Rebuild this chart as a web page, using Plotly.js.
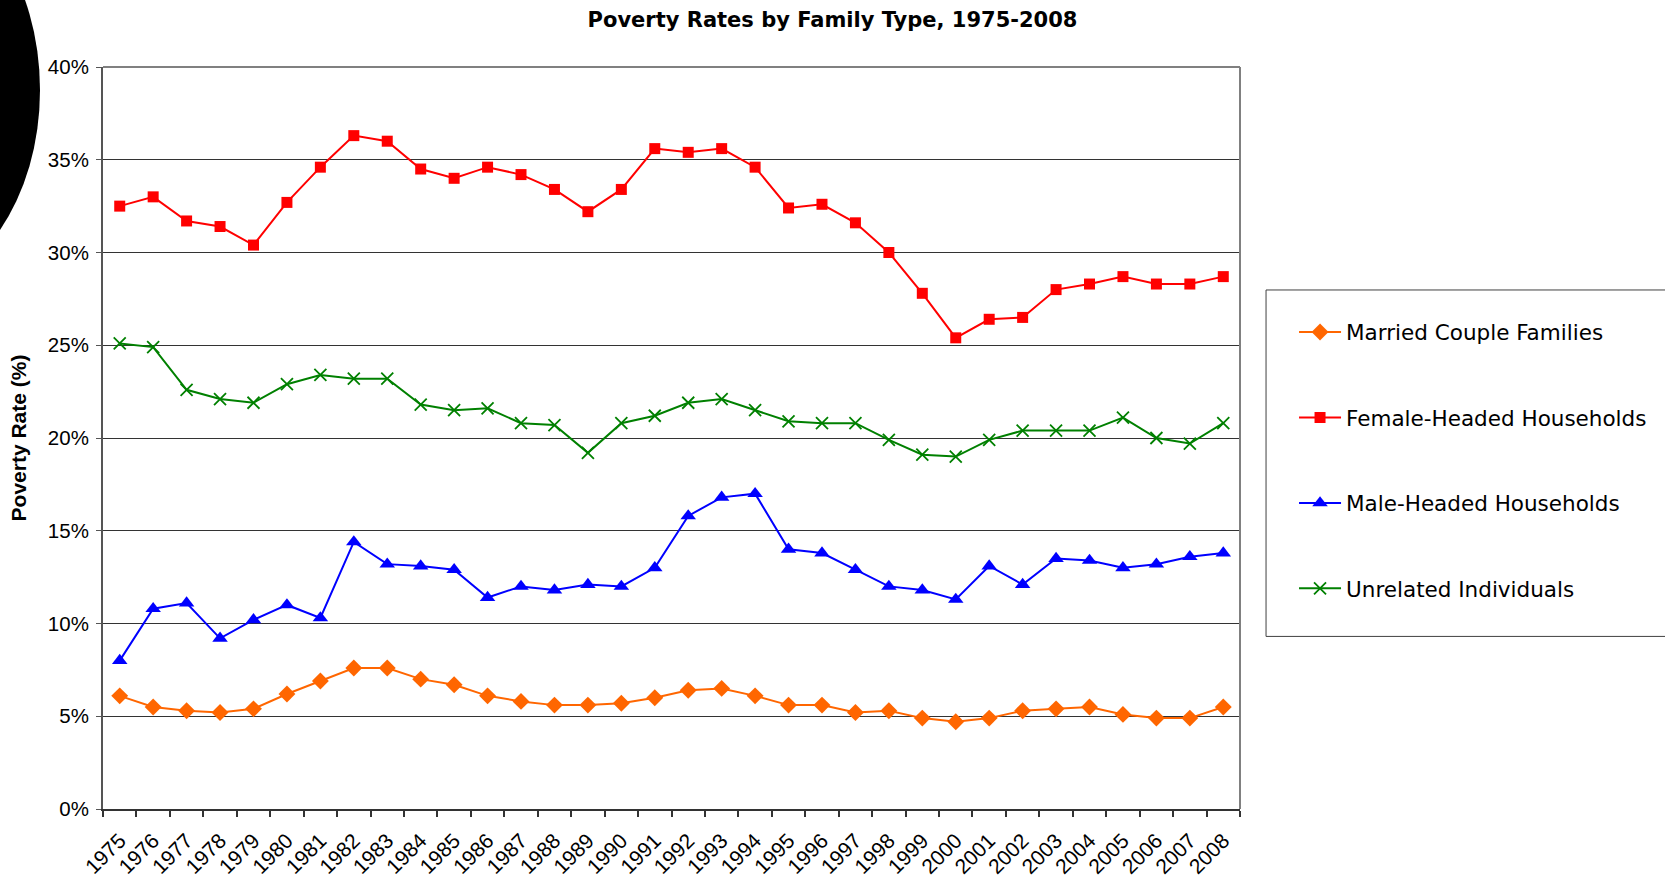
<!DOCTYPE html>
<html>
<head>
<meta charset="utf-8">
<script src="https://cdn.plot.ly/plotly-3.0.1.min.js"></script>
<style>
  html, body { margin: 0; padding: 0; background: #ffffff; }
  #chart { width: 1665px; height: 878px; }
</style>
</head>
<body>
<div id="chart"></div>
<script>
const years = ["1975","1976","1977","1978","1979","1980","1981","1982","1983","1984","1985","1986","1987","1988","1989","1990","1991","1992","1993","1994","1995","1996","1997","1998","1999","2000","2001","2002","2003","2004","2005","2006","2007","2008"];

const marriedCouple = [6.1,5.5,5.3,5.2,5.4,6.2,6.9,7.6,7.6,7.0,6.7,6.1,5.8,5.6,5.6,5.7,6.0,6.4,6.5,6.1,5.6,5.6,5.2,5.3,4.9,4.7,4.9,5.3,5.4,5.5,5.1,4.9,4.9,5.5];
const femaleHeaded = [32.5,33.0,31.7,31.4,30.4,32.7,34.6,36.3,36.0,34.5,34.0,34.6,34.2,33.4,32.2,33.4,35.6,35.4,35.6,34.6,32.4,32.6,31.6,30.0,27.8,25.4,26.4,26.5,28.0,28.3,28.7,28.3,28.3,28.7];
const maleHeaded = [8.0,10.8,11.1,9.2,10.2,11.0,10.3,14.4,13.2,13.1,12.9,11.4,12.0,11.8,12.1,12.0,13.0,15.8,16.8,17.0,14.0,13.8,12.9,12.0,11.8,11.3,13.1,12.1,13.5,13.4,13.0,13.2,13.6,13.8];
const unrelated = [25.1,24.9,22.6,22.1,21.9,22.9,23.4,23.2,23.2,21.8,21.5,21.6,20.8,20.7,19.2,20.8,21.2,21.9,22.1,21.5,20.9,20.8,20.8,19.9,19.1,19.0,19.9,20.4,20.4,20.4,21.1,20.0,19.7,20.8];

const seriesNames = ["Married Couple Families","Female-Headed Households","Male-Headed Households","Unrelated Individuals"];
const seriesColors = ["#FF6600","#FF0000","#0000FF","#008000"];

const traces = [
  {
    x: years, y: marriedCouple, name: seriesNames[0], type: "scatter", mode: "lines+markers",
    legendgroup: "g1",
    line: { color: seriesColors[0], width: 2 },
    marker: { symbol: "diamond", size: 13, color: seriesColors[0] }
  },
  {
    x: years, y: femaleHeaded, name: seriesNames[1], type: "scatter", mode: "lines+markers",
    legendgroup: "g2",
    line: { color: seriesColors[1], width: 2 },
    marker: { symbol: "square", size: 11, color: seriesColors[1] }
  },
  {
    x: years, y: maleHeaded, name: seriesNames[2], type: "scatter", mode: "lines+markers",
    legendgroup: "g3",
    line: { color: seriesColors[2], width: 2 },
    marker: { symbol: "triangle-up", size: 13.5, color: seriesColors[2] }
  },
  {
    x: years, y: unrelated, name: seriesNames[3], type: "scatter", mode: "lines+markers",
    legendgroup: "g4",
    line: { color: seriesColors[3], width: 2 },
    marker: { symbol: "x-thin", size: 12, color: seriesColors[3], line: { color: seriesColors[3], width: 1.8 } }
  }
];

const layout = {
  width: 1665,
  height: 878,
  paper_bgcolor: "#ffffff",
  plot_bgcolor: "#ffffff",
  margin: { l: 103, r: 425, t: 67, b: 69, pad: 0 },
  font: { family: "Liberation Sans, Arial, sans-serif", color: "#000000", size: 20 },
  title: {
    text: "<b>Poverty Rates by Family Type, 1975-2008</b>",
    font: { family: "DejaVu Sans, sans-serif", size: 21, color: "#000000" },
    x: 0.5, xref: "container", xanchor: "center",
    y: 1 - 20 / 878, yref: "container", yanchor: "middle"
  },
  showlegend: true,
  legend: {
    x: 1.0229, xref: "paper", xanchor: "left",
    y: 0.688, yref: "paper", yanchor: "top",
    bgcolor: "rgba(0,0,0,0)",
    borderwidth: 0,
    font: { family: "DejaVu Sans, sans-serif", size: 21.5, color: "#000000" },
    traceorder: "grouped",
    tracegroupgap: 54.5,
    indentation: 28,
    itemwidth: 42,
    title: { text: " ", font: { size: 10 } }
  },
  xaxis: {
    type: "category",
    range: [-0.5, 33.5],
    tickangle: -45,
    ticks: "outside",
    tickson: "boundaries",
    ticklen: 6,
    tickcolor: "#333333",
    tickwidth: 1.5,
    ticklabelstandoff: 9,
    showline: true,
    linecolor: "#333333",
    linewidth: 2,
    showgrid: false,
    zeroline: false,
    automargin: false,
    tickfont: { family: "Liberation Sans, Arial, sans-serif", size: 21, color: "#000000" }
  },
  yaxis: {
    range: [0, 40],
    dtick: 5,
    tick0: 0,
    ticksuffix: "%",
    ticks: "outside",
    ticklen: 5,
    tickcolor: "#555555",
    ticklabelstandoff: 3,
    showline: true,
    linecolor: "#555555",
    linewidth: 2,
    showgrid: true,
    gridcolor: "#333333",
    gridwidth: 1,
    zeroline: false,
    automargin: false,
    tickfont: { family: "Liberation Sans, Arial, sans-serif", size: 20.5, color: "#000000" },
    title: {
      text: "<b>Poverty Rate (%)</b>",
      font: { family: "Liberation Sans, Arial, sans-serif", size: 21, color: "#000000" },
      standoff: 16
    }
  },
  shapes: [
    { type: "line", xref: "paper", yref: "paper", x0: 0, x1: 1, y0: 1, y1: 1, line: { color: "#808080", width: 2 }, layer: "above" },
    { type: "line", xref: "paper", yref: "paper", x0: 1, x1: 1, y0: 0, y1: 1, line: { color: "#808080", width: 2 }, layer: "above" },
    { type: "rect", xref: "paper", yref: "paper", x0: 1.0229, x1: 1.40, y0: 0.2326, y1: 0.6995, line: { color: "#404040", width: 1 }, fillcolor: "rgba(0,0,0,0)", layer: "below" },
    { type: "circle", xref: "paper", yref: "paper", x0: -0.3017, x1: -0.0554, y0: 0.6995, y1: 1.2385, fillcolor: "#000000", line: { width: 0 }, layer: "above" }
  ]
};

Plotly.newPlot("chart", traces, layout, { displayModeBar: false, responsive: false });
</script>
</body>
</html>
